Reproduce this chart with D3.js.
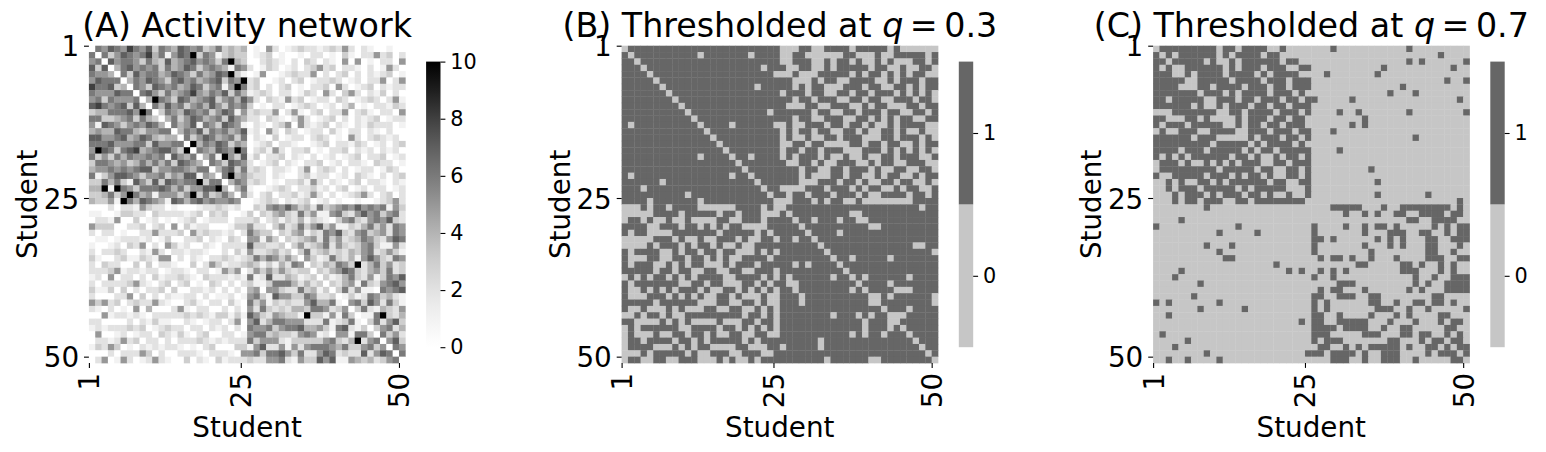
<!DOCTYPE html>
<html>
<head>
<meta charset="utf-8">
<script src="https://cdn.jsdelivr.net/npm/d3@7"></script>
<style>
  body { margin: 0; background: #fff; }
  svg text { font-family: "DejaVu Sans", sans-serif; fill: #000; }
</style>
</head>
<body>
<div id="chart"></div>
<script>
// tick labels
var studentTicks = [1, 25, 50];
var activityTicks = [0, 2, 4, 6, 8, 10];
var binaryTicks = [0, 1];
var panelTitles = ["(A) Activity network", "(B) Thresholded at ", "(C) Thresholded at "];
var thresholds = [null, "0.3", "0.7"];

// matrices are symmetric, row i holds columns i..50 ("a" = 10)
// rows 1-25 are written as (cols i..25) + (cols 26..50)
var activityUpper = [
  "0657658657365476563463434" + "0105201232212325202100100",
  "063576568461576a36513433" + "0123010010220103102252302",
  "07566536437456756536a43" + "0023210203202105050102205",
  "0467565636457635654165" + "2013201202352302210201520",
  "063756645765364576a31" + "0150012322502023020212301",
  "0465765367564567365a" + "2300120230122320120225025",
  "06537656457635615a6" + "2302023010223052012302122",
  "067536456854657364" + "1232022013205203520213020",
  "04a65376456735647" + "5203215230122032012320251",
  "0647563564753656" + "3010220123201202401022132",
  "036547656357615" + "2322502510230225023102205",
  "04635764563754" + "2203210252012302021230122",
  "0645716537651" + "0210235052123021021322201",
  "046573656457" + "1205203201220310220210200",
  "06357645636" + "0210301220232010520232120",
  "0a46576354" + "0123022100123022132012023",
  "0654765a6" + "0231520223010223021202120",
  "0461a537" + "1302230210201201230223012",
  "0653765" + "2012302102230120221032201",
  "046736" + "2320221025023202012201320",
  "06a45" + "3220210023122012032102023",
  "0465" + "2320102231520210230221021",
  "046" + "1001232022312023012022012",
  "05" + "2023022312520201235202302",
  "0" + "0123202123012010010012352",
  "0325657534263456575656153",
  "032453263511563257563562",
  "02313241321035632565732",
  "0352363573511324635265",
  "032451326573256345265",
  "03234526352346532576",
  "0352346253235631152",
  "036234232435623531",
  "05312632415753265",
  "03243653a2463523",
  "032457632453623",
  "03124632513657",
  "0324516325675",
  "036251106567",
  "01312653421",
  "0563752631",
  "036214325",
  "0116a324",
  "0362573",
  "035624",
  "06352",
  "0573",
  "065",
  "06",
  "0"
];

var thresh03Upper = [
  "0111111111111111111111111" + "0001100111101111101000000",
  "011111111110111111101111" + "0011000000110001001111101",
  "01111111111111111111111" + "0011100101101001010001101",
  "0111111111111111111011" + "1001100101111101100100110",
  "011111111111111111110" + "0010001111101011010101100",
  "01111111111111111111" + "1100010110011110010111011",
  "0111111111111110111" + "1101011000111011001101011",
  "011111111111111111" + "0111011001101101110101010",
  "01111111111111111" + "1101101110011011001110110",
  "0111111111111111" + "1000110011100101100011011",
  "011111111111101" + "1111101100110111011001101",
  "01111111111111" + "1101100111001101010110011",
  "0111101111110" + "0100111011011010010111100",
  "011111111111" + "0101101100110100110100100",
  "01111111111" + "0100100110111000110111010",
  "0111111111" + "0011011000011011011001011",
  "011111111" + "0110110111000111010101010",
  "01101111" + "0101110100100100110111001",
  "0111111" + "1001101001110010110011100",
  "011111" + "1110110011011101001100110",
  "01111" + "1110100011011001011001011",
  "0111" + "1110001110110100110110010",
  "011" + "0000111011101011001011001",
  "01" + "1011011101110100111101101",
  "0" + "0011101011001000000001111",
  "0111111111111111111111011",
  "011111111100111111111111",
  "01101110110011111111111",
  "0111111111100111111111",
  "011110111111111111111",
  "01111111111111111111",
  "0111111111111110011",
  "011111111111111110",
  "01101111101111111",
  "0111111111111111",
  "011111111111111",
  "01011111101111",
  "0111101111111",
  "011110001111",
  "00101111110",
  "0111111110",
  "011101111",
  "00011111",
  "0111111",
  "011111",
  "01111",
  "0111",
  "011",
  "01",
  "0"
];

var thresh07Upper = [
  "0111111111011011110010000" + "0001000000000001000000000",
  "010111111010111101100000" + "0000000000000000000010000",
  "01111101001011111101100" + "0000000000000001010000001",
  "0011111101011101110011" + "0000000000010000000000100",
  "010111101111010111100" + "0010000000100000000000000",
  "00111110111101110111" + "0000000000000000000001001",
  "0110111101110110111" + "0000000000000010000000000",
  "011101011110111010" + "0000000000001000100000000",
  "00111011011101101" + "1000001000000000000000010",
  "0101110110110111" + "0000000000000000000000000",
  "001101111011101" + "0000100100000001000000001",
  "00101110110110" + "0000000010000000000000000",
  "0101101101110" + "0000001010000000000000000",
  "001110111011" + "0001000000000000000000000",
  "01011101101" + "0000000000000000100000000",
  "0101111010" + "0000000000000000000000000",
  "011011111" + "0000100000000000000000000",
  "00101101" + "0000000000000000000000000",
  "0110111" + "0000000000000000000000000",
  "001101" + "0000000001000000000000000",
  "01101" + "0000000000000000000000000",
  "0011" + "0000000000100000000000000",
  "001" + "0000000000000000000000000",
  "01" + "0000000000100000001000000",
  "0" + "0000000000000000000000010",
  "0001111100010011111111010",
  "000010010100110011110110",
  "00000000000001100111100",
  "0010010110100000101011",
  "000010001110011001011",
  "00000101010001100111",
  "0010001010001100010",
  "001000000001100100",
  "01000100001110011",
  "0000011010010100",
  "000011100010100",
  "00000100100111",
  "0000101001111",
  "001010001111",
  "00000110000",
  "0110110100",
  "001000001",
  "00011000",
  "0010110",
  "001100",
  "01010",
  "0110",
  "011",
  "01",
  "0"
];

var N = 50;

function fullMatrix(rows) {
    var m = [];
    for (var i = 0; i < N; i++) { m.push(new Array(N).fill(0)); }
    rows.forEach(function(s, i) {
        for (var k = 0; k < s.length && i + k < N; k++) {
            var v = s[k] === "a" ? 10 : +s[k];
            m[i][i + k] = v;
            m[i + k][i] = v;
        }
    });
    return m;
}

var activity = fullMatrix(activityUpper);
var thresh03 = fullMatrix(thresh03Upper);
var thresh07 = fullMatrix(thresh07Upper);

// layout
var plotTop = 45.7, W = 316.4, H = 317.3;
var tickLen = 4.9, tickPad = 4.9;
var cbTop = 61.6, cbH = 285.6, cbW = 14.4;
var lightGrey = "#c6c6c6", darkGrey = "#666666";

var panels = [
    { left: 88.9,   matrix: activity, binary: false },
    { left: 621.6,  matrix: thresh03, binary: true  },
    { left: 1153.1, matrix: thresh07, binary: true  }
];

var svg = d3.select("#chart").append("svg")
            .attr("width", 1546)
            .attr("height", 452);

svg.append("rect").attr("width", 1546).attr("height", 452).attr("fill", "#fff");

var defs = svg.append("defs");
var grad = defs.append("linearGradient")
               .attr("id", "greysGrad")
               .attr("x1", 0).attr("y1", 1).attr("x2", 0).attr("y2", 0);
d3.range(0, 1.0001, 0.05).forEach(function(t) {
    grad.append("stop").attr("offset", t).attr("stop-color", d3.interpolateGreys(t));
});

var greyScale = d3.scaleSequential(d3.interpolateGreys).domain([0, 10]);

panels.forEach(function(p, pi) {

    var x = d3.scaleLinear().domain([1, N + 1]).range([0, W]);
    var y = d3.scaleLinear().domain([1, N + 1]).range([0, H]);

    var color = p.binary
        ? function(v) { return v ? darkGrey : lightGrey; }
        : function(v) { return greyScale(v); };

    var cells = [];
    p.matrix.forEach(function(row, i) {
        row.forEach(function(v, j) { cells.push({ i: i + 1, j: j + 1, v: v }); });
    });

    var g = svg.append("g").attr("transform", "translate(" + p.left + "," + plotTop + ")");

    g.selectAll("rect.cell")
     .data(cells)
     .enter()
     .append("rect")
        .attr("class", "cell")
        .attr("x", function(d) { return x(d.j); })
        .attr("y", function(d) { return y(d.i); })
        .attr("width",  x(2) - x(1) + 0.35)
        .attr("height", y(2) - y(1) + 0.35)
        .attr("fill", function(d) { return color(d.v); });

    // x axis
    var xg = g.append("g")
              .attr("transform", "translate(0," + H + ")")
              .call(d3.axisBottom(x).tickValues(studentTicks).tickSize(tickLen).tickPadding(tickPad));
    xg.select(".domain").remove();
    xg.selectAll("line").attr("stroke-width", 1.1);
    xg.selectAll("text")
      .attr("transform", "rotate(-90)")
      .attr("x", -(tickLen + tickPad))
      .attr("y", 0)
      .attr("dy", "0.36em")
      .attr("text-anchor", "end")
      .style("font-size", "27.8px")
      .style("font-family", "DejaVu Sans");

    // y axis
    var yg = g.append("g")
              .call(d3.axisLeft(y).tickValues(studentTicks).tickSize(tickLen).tickPadding(tickPad));
    yg.select(".domain").remove();
    yg.selectAll("line").attr("stroke-width", 1.1);
    yg.selectAll("text")
      .attr("dy", "0.36em")
      .style("font-size", "27.8px")
      .style("font-family", "DejaVu Sans");

    // axis labels
    g.append("text")
     .text("Student")
     .attr("x", W / 2)
     .attr("y", 437 - plotTop)
     .attr("text-anchor", "middle")
     .style("font-size", "27.8px");

    g.append("text")
     .text("Student")
     .attr("transform", "translate(-52," + (H / 2) + ") rotate(-90)")
     .attr("text-anchor", "middle")
     .style("font-size", "27.8px");

    // title (q = ... set like mathtext, tighter around "=")
    var title = svg.append("text")
                   .attr("x", p.left + W / 2)
                   .attr("y", 37.4)
                   .attr("text-anchor", "middle")
                   .style("font-size", "33.3px");
    title.append("tspan").text(panelTitles[pi]);
    if (thresholds[pi]) {
        title.append("tspan").style("font-style", "italic").text("q");
        title.append("tspan").attr("dx", 6.5).text("=");
        title.append("tspan").attr("dx", 6.5).text(thresholds[pi]);
    }

    // colorbar
    var cbX = p.left + W + 20.8;
    var cb = svg.append("g").attr("transform", "translate(" + cbX + "," + cbTop + ")");
    var cy;
    if (p.binary) {
        cy = d3.scaleLinear().domain([-0.5, 1.5]).range([cbH, 0]);
        cb.selectAll("rect")
          .data(binaryTicks)
          .enter()
          .append("rect")
            .attr("x", 0)
            .attr("y", function(d) { return cy(d + 0.5); })
            .attr("width", cbW)
            .attr("height", function(d) { return cy(d - 0.5) - cy(d + 0.5); })
            .attr("fill", function(d) { return d ? darkGrey : lightGrey; });
    } else {
        cy = d3.scaleLinear().domain([0, 10]).range([cbH, 0]);
        cb.append("rect")
          .attr("width", cbW)
          .attr("height", cbH)
          .attr("fill", "url(#greysGrad)");
    }
    var cg = cb.append("g")
               .attr("transform", "translate(" + cbW + ",0)")
               .call(d3.axisRight(cy)
                       .tickValues(p.binary ? binaryTicks : activityTicks)
                       .tickFormat(d3.format("d"))
                       .tickSize(tickLen).tickPadding(tickPad));
    cg.select(".domain").remove();
    cg.selectAll("line").attr("stroke-width", 1.1);
    cg.selectAll("text")
      .style("font-size", "20.8px")
      .style("font-family", "DejaVu Sans");
});
</script>
</body>
</html>
